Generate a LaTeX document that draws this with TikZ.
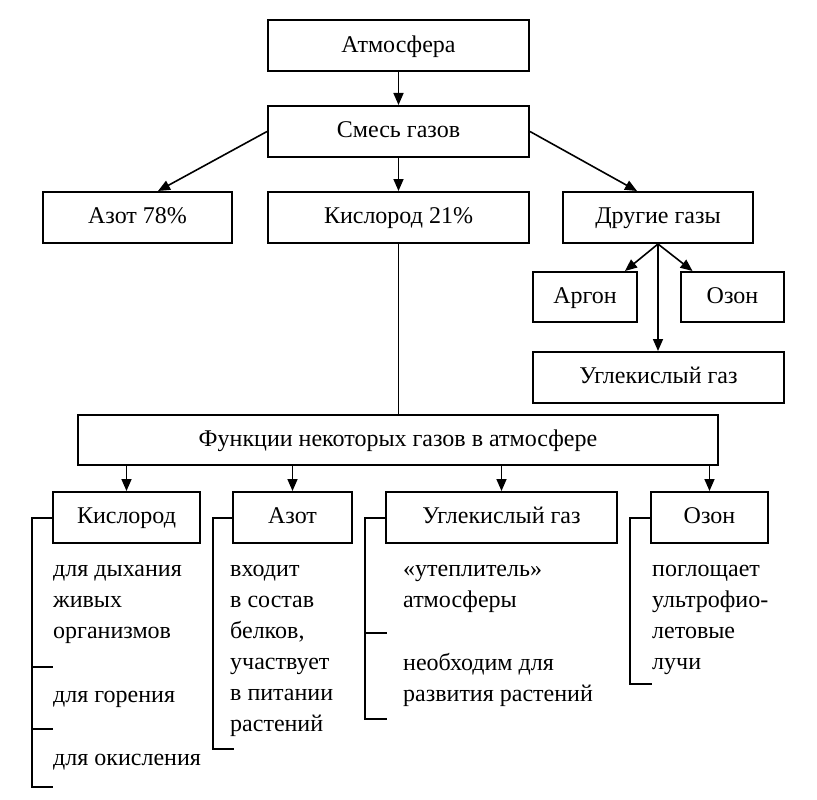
\documentclass[tikz,border=0pt]{standalone}
\usepackage{fontspec}
\setmainfont{Liberation Serif}
\usetikzlibrary{arrows.meta,positioning,calc}
\tikzset{
  box/.style={draw, line width=2pt, inner sep=0pt, minimum height=51pt,
    text height=15pt, text depth=2.5pt},
  conn/.style={line width=1.6pt, -{Triangle[length=12pt,width=10pt]}},
  link/.style={line width=1.6pt},
  brace/.style={line width=2pt},
  note/.style={anchor=north west, align=left, inner sep=0pt},
}
\begin{document}
\begin{tikzpicture}[x=1pt, y=-1pt, font=\fontsize{24}{31}\selectfont]
  \useasboundingbox (0,0) rectangle (817,800);

  % upper part
  \node[box, minimum width=261pt] (atm) at (398.5,46) {Атмосфера};
  \node[box, minimum width=261pt] (mix) at (398.5,131.5) {Смесь газов};
  \node[box, minimum width=189pt] (nitro) at (137.5,217.5) {Азот 78\%};
  \node[box, minimum width=261pt] (oxy) at (398.5,217.5) {Кислород 21\%};
  \node[box, minimum width=190pt] (other) at (658,217.5) {Другие газы};
  \node[box, minimum width=104pt, minimum height=50pt] (argon) at (585,297) {Аргон};
  \node[box, minimum width=103pt, minimum height=50pt] (ozone) at (732.5,297) {Озон};
  \node[box, minimum width=251pt] (co2) at (658.5,377.5) {Углекислый газ};

  \draw[conn] (atm) -- (mix);
  \draw[conn] (mix.west) -- ([xshift=20.5pt]nitro.north);
  \draw[conn] (mix) -- (oxy);
  \draw[conn] (mix.east) -- ([xshift=-21pt]other.north);
  \draw[conn] (other.south) -- ([xshift=40pt]argon.north);
  \draw[conn] (other.south) -- ([xshift=-40pt]ozone.north);
  \draw[conn] (other.south) -- (other.south |- co2.north);

  % functions
  \node[box, minimum width=640pt, minimum height=50pt] (func) at (398,440) {Функции некоторых газов в атмосфере};
  \draw[link] (oxy) -- (oxy |- func.north);

  \node[box, minimum width=147pt] (fo) at (126.5,517.5) {Кислород};
  \node[box, minimum width=119pt] (fn) at (292.5,517.5) {Азот};
  \node[box, minimum width=231pt] (fc) at (501.5,517.5) {Углекислый газ};
  \node[box, minimum width=117pt] (fz) at (709.5,517.5) {Озон};

  \foreach \b in {fo,fn,fc,fz}
    \draw[conn] (func.south -| \b.north) -- (\b.north);

  % notes
  \node[note] (fo-a) at (53,555) {\strut для дыхания\\живых\\организмов};
  \node[note] (fo-b) at (53,681) {\strut для горения};
  \node[note] (fo-c) at (53,744) {\strut для окисления};
  \node[note] (fn-a) at (230,555) {\strut входит\\в состав\\белков,\\участвует\\в питании\\растений};
  \node[note] (fc-a) at (403,555) {\strut «утеплитель»\\атмосферы};
  \node[note] (fc-b) at (403,649) {\strut необходим для\\развития растений};
  \node[note] (fz-a) at (652,555) {\strut поглощает\\ультрофио-\\летовые\\лучи};

  % brackets
  \coordinate (fo-end) at (32,787);
  \coordinate (fn-end) at (213,749);
  \coordinate (fc-end) at (365,719);
  \coordinate (fz-end) at (630,684);
  \draw[brace] (fo.west) -| (fo-end) -- ++(21,0);
  \draw[brace] (fo-end |- 0,667) -- ++(21,0);
  \draw[brace] (fo-end |- 0,729) -- ++(21,0);
  \draw[brace] (fn.west) -| (fn-end) -- ++(21,0);
  \draw[brace] (fc.west) -| (fc-end) -- ++(22,0);
  \draw[brace] (fc-end |- 0,633) -- ++(22,0);
  \draw[brace] (fz.west) -| (fz-end) -- ++(22,0);
\end{tikzpicture}
\end{document}
